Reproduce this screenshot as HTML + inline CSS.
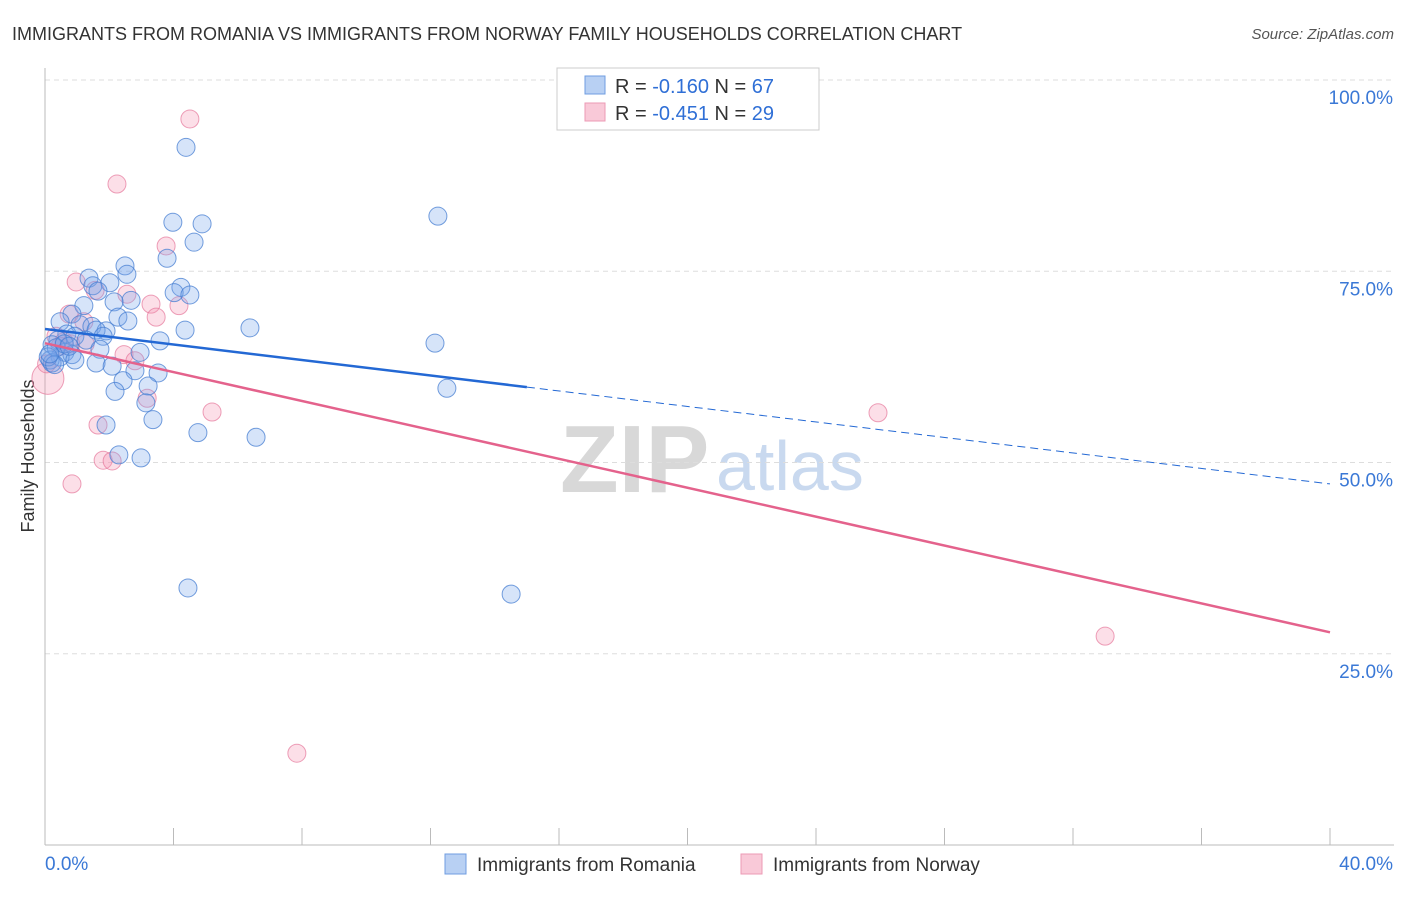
<!DOCTYPE html>
<html><head><meta charset="utf-8"><style>
body{margin:0;background:#fff;font-family:"Liberation Sans",sans-serif;}
svg text{font-family:"Liberation Sans",sans-serif;}
</style></head><body>
<svg id="chart" width="1406" height="892">
<text x="12" y="40" font-size="18" fill="#333">IMMIGRANTS FROM ROMANIA VS IMMIGRANTS FROM NORWAY FAMILY HOUSEHOLDS CORRELATION CHART</text>
<text x="1394" y="39" font-size="15" fill="#555" font-style="italic" text-anchor="end">Source: ZipAtlas.com</text>
<text x="560" y="492" font-size="96" fill="#d8d8d8" font-family="Liberation Serif" font-weight="bold">ZIP</text>
<text x="716" y="490" font-size="70" fill="#c9d9ef">atlas</text>
<text transform="translate(34,456) rotate(-90)" font-size="18" fill="#333" text-anchor="middle">Family Households</text>
<g id="grid"></g><g id="pts"></g><g id="lines"></g>
<g>
<rect x="557" y="68" width="262" height="62" fill="#fff" stroke="#ccc"/>
<rect x="585" y="76" width="20" height="18" fill="#b8d0f3" stroke="#6f9de0"/>
<rect x="585" y="103" width="20" height="18" fill="#f9c9d8" stroke="#ec9ab5"/>
<text x="615" y="93" font-size="20" fill="#333">R = <tspan fill="#2f6fd6">-0.160</tspan>   N = <tspan fill="#2f6fd6">67</tspan></text>
<text x="615" y="120" font-size="20" fill="#333">R = <tspan fill="#2f6fd6">-0.451</tspan>   N = <tspan fill="#2f6fd6">29</tspan></text>
</g>
<g>
<rect x="445" y="854" width="21" height="20" fill="#b8d0f3" stroke="#6f9de0"/>
<text x="477" y="871" font-size="19" fill="#333">Immigrants from Romania</text>
<rect x="741" y="854" width="21" height="20" fill="#f9c9d8" stroke="#ec9ab5"/>
<text x="773" y="871" font-size="19" fill="#333">Immigrants from Norway</text>
</g>
</svg>
<script>
const yTicks=[100,75,50,25];
const yTickLabels=["100.0%","75.0%","50.0%","25.0%"];
const xEndLabels=["0.0%","40.0%"];
const romaniaX=[4.39,12.23,3.98,4.89,4.64,3.80,2.49,2.55,1.37,2.02,1.49,4.23,1.65,4.02,4.51,2.68,2.15,1.21,2.27,2.58,0.84,0.47,1.09,1.46,6.38,4.36,1.90,1.59,0.68,0.93,1.81,0.40,1.28,3.58,0.22,12.14,1.71,2.96,0.62,0.84,0.47,0.16,0.93,1.59,0.22,2.09,2.80,3.52,2.43,3.21,12.51,2.18,3.14,3.36,1.90,4.76,6.57,2.30,2.99,4.45,14.51,0.35,0.10,0.60,0.30,0.15,0.75];
const romaniaY=[91.2,82.2,81.4,81.2,78.8,76.7,75.7,74.6,74.1,73.5,73.1,72.9,72.4,72.2,71.9,71.2,71.0,70.5,69.0,68.5,69.4,68.4,68.0,67.8,67.6,67.3,67.2,67.3,66.8,66.5,66.5,66.0,66.0,65.9,65.4,65.6,64.8,64.4,64.4,64.1,63.8,63.4,63.4,63.0,63.0,62.6,62.0,61.7,60.7,60.0,59.7,59.3,57.8,55.6,54.9,53.9,53.3,51.0,50.6,33.6,32.8,65.0,63.8,65.5,62.8,64.2,65.2];
const norwayX=[4.51,2.24,3.77,0.97,1.56,2.55,3.30,4.17,3.46,0.75,1.21,0.34,0.59,1.25,2.46,2.80,0.09,3.18,5.20,25.93,1.65,1.81,2.09,0.84,33.0,7.84,0.47,0.80,0.05];
const norwayY=[94.9,86.4,78.3,73.6,72.5,72.0,70.7,70.5,69.0,69.4,68.4,66.5,65.8,65.5,64.1,63.3,61.0,58.4,56.6,56.5,54.9,50.3,50.2,47.2,27.3,12.0,65.2,65.5,62.9];
const romaniaTrend=[67.45,47.2]; const romaniaSolidEnd=15.0;
const norwayTrend=[65.6,27.8];
const NS="http://www.w3.org/2000/svg";
const X0=45,X1=1330,Y0=845,Y100=80;
const sx=v=>X0+(X1-X0)*v/40;
const sy=v=>Y0-(Y0-Y100)*v/100;
function mk(tag,attrs,parent){const e=document.createElementNS(NS,tag);for(const k in attrs)e.setAttribute(k,attrs[k]);parent.appendChild(e);return e;}
const grid=document.getElementById('grid');
yTicks.forEach((t,i)=>{
 const l=mk('line',{x1:X0,x2:1394,y1:sy(t),y2:sy(t),stroke:'#ddd','stroke-dasharray':'5,4'},grid);
 
 
 const tx=mk('text',{x:1393,y:sy(t)+24,'font-size':19,fill:'#3a78d6','text-anchor':'end'},grid);
 tx.textContent=yTickLabels[i];
 
 
});
const ax=mk('line',{x1:X0,x2:X0,y1:68,y2:Y0,stroke:'#bbb'},grid);


const bx=mk('line',{x1:X0,x2:1394,y1:Y0,y2:Y0,stroke:'#bbb'},grid);


for(let v=4;v<=40;v+=4){
 const t=mk('line',{x1:sx(v),x2:sx(v),y1:828,y2:Y0,stroke:'#bbb'},grid);
 
 
}
[[0,'start',45],[40,'end',1393]].forEach((a,i)=>{
 const t=mk('text',{x:a[2],y:870,'font-size':19,fill:'#3a78d6','text-anchor':a[1]},grid);
 t.textContent=xEndLabels[i];
 
 
});
const pts=document.getElementById('pts');
norwayX.forEach((x,i)=>{
 const r=(i===16)?16:9;
 const c=mk('circle',{cx:sx(x),cy:sy(norwayY[i]),r:r,fill:'rgba(245,150,180,0.3)',stroke:'rgba(230,120,155,0.7)','stroke-width':1},pts);
 
 
});
romaniaX.forEach((x,i)=>{
 const c=mk('circle',{cx:sx(x),cy:sy(romaniaY[i]),r:9,fill:'rgba(120,165,235,0.3)',stroke:'rgba(70,125,210,0.75)','stroke-width':1},pts);
 
 
});
const lines=document.getElementById('lines');
const bY=v=>romaniaTrend[0]+(romaniaTrend[1]-romaniaTrend[0])*v/40;
const l1=mk('line',{x1:sx(0),y1:sy(bY(0)),x2:sx(romaniaSolidEnd),y2:sy(bY(romaniaSolidEnd)),stroke:'#2368d4','stroke-width':2.5},lines);


const l2=mk('line',{x1:sx(romaniaSolidEnd),y1:sy(bY(romaniaSolidEnd)),x2:sx(40),y2:sy(bY(40)),stroke:'#2368d4','stroke-width':1,'stroke-dasharray':'8,5'},lines);


const l3=mk('line',{x1:sx(0),y1:sy(norwayTrend[0]),x2:sx(40),y2:sy(norwayTrend[1]),stroke:'#e4628c','stroke-width':2.5},lines);


</script>
</body></html>
